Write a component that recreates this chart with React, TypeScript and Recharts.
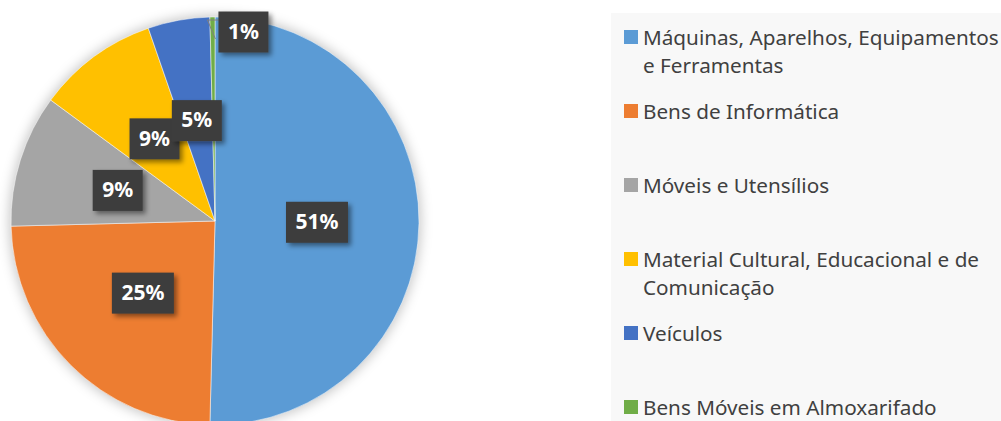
import { PieChart, Pie, Cell, Legend } from "recharts";

const categories = [
  "Máquinas, Aparelhos, Equipamentos e Ferramentas",
  "Bens de Informática",
  "Móveis e Utensílios",
  "Material Cultural, Educacional e de Comunicação",
  "Veículos",
  "Bens Móveis em Almoxarifado",
];
const shares = [50.4, 24.2, 10.5, 9.6, 4.9, 0.4];
const shareLabels = ["51%", "25%", "9%", "9%", "5%", "1%"];
const colors = ["#5b9bd5", "#ed7d31", "#a5a5a5", "#ffc000", "#4472c4", "#70ad47"];

const data = categories.map((name, i) => ({ name, value: shares[i] }));
const whole = [{ name: "total", value: shares.reduce((a, b) => a + b, 0) }];

const RAD = Math.PI / 180;

function SliceLabel(props: any) {
  const { cx, cy, midAngle, outerRadius, index } = props;
  const text = shareLabels[index];
  const w = text.length === 3 ? 62 : 50;
  const h = 41;
  let x: number;
  let y: number;
  let leader = null;
  if (index === categories.length - 1) {
    // tiny slice: label sits outside, to the right, with a leader line
    const px = cx + outerRadius * Math.cos(-midAngle * RAD);
    const py = cy + outerRadius * Math.sin(-midAngle * RAD);
    x = px + 6 + w / 2;
    y = py + 15;
    leader = (
      <polyline
        points={`${x - w / 2},${py + 3} ${px - 5},${py + 3} ${px + 3},${py + 22}`}
        fill="none"
        stroke="#7f7f7f"
        strokeWidth={1}
      />
    );
  } else {
    const r = outerRadius * 0.5;
    x = cx + r * Math.cos(-midAngle * RAD);
    y = cy + r * Math.sin(-midAngle * RAD);
  }
  return (
    <g>
      {index === 0 && (
        <defs>
          <filter id="boxShadow" x="-30%" y="-30%" width="170%" height="170%">
            <feDropShadow dx="3" dy="3" stdDeviation="2.5" floodColor="#000" floodOpacity="0.45" />
          </filter>
          <filter id="pieShadow" x="-20%" y="-20%" width="140%" height="140%">
            <feGaussianBlur stdDeviation="6" />
          </filter>
        </defs>
      )}
      {leader}
      <rect
        x={x - w / 2}
        y={y - h / 2}
        width={w}
        height={h}
        fill="#3d3d3d"
        filter="url(#boxShadow)"
      />
      <text
        x={x}
        y={y + 1}
        textAnchor="middle"
        dominantBaseline="middle"
        fill="#fff"
        fontFamily="'Noto Sans', sans-serif"
        fontWeight={700}
        fontSize={21}
      >
        {text}
      </text>
    </g>
  );
}

// legend keeps the original series order (recharts would sort it by name)
function LegendBox() {
  return (
    <div
      style={{
        background: "#f8f8f8",
        width: 390,
        height: 408,
        paddingTop: 10,
        boxSizing: "border-box",
        fontFamily: "'Noto Sans', sans-serif",
      }}
    >
      {categories.map((name, i) => (
        <div key={name} style={{ height: 74, display: "flex", alignItems: "flex-start" }}>
          <span
            style={{
              width: 14,
              height: 14,
              background: colors[i],
              marginLeft: 13,
              marginTop: 7,
              flex: "none",
            }}
          />
          <span
            style={{
              marginLeft: 5,
              width: 362,
              fontSize: 20.7,
              lineHeight: "28px",
              color: "#404040",
            }}
          >
            {name}
          </span>
        </div>
      ))}
    </div>
  );
}

export default function App() {
  return (
    <div style={{ position: "absolute", left: 0, top: 0, background: "#fff" }}>
      <PieChart width={1001} height={421} margin={{ top: 0, right: 0, bottom: 0, left: 0 }}>
        <Pie
          data={whole}
          dataKey="value"
          cx={215}
          cy={221}
          outerRadius={206}
          startAngle={90}
          endAngle={-270}
          isAnimationActive={false}
          legendType="none"
        >
          <Cell fill="#000" fillOpacity={0.22} stroke="none" filter="url(#pieShadow)" />
        </Pie>
        <Pie
          data={data}
          dataKey="value"
          nameKey="name"
          cx={215}
          cy={221}
          outerRadius={204}
          startAngle={90}
          endAngle={-270}
          isAnimationActive={false}
          label={SliceLabel}
          labelLine={false}
        >
          {data.map((d, i) => (
            <Cell key={d.name} fill={colors[i]} stroke="#fff" strokeWidth={0.5} />
          ))}
        </Pie>
        <Legend
          layout="vertical"
          align="right"
          verticalAlign="top"
          content={LegendBox}
          wrapperStyle={{ left: 611, top: 13, width: 390 }}
        />
      </PieChart>
    </div>
  );
}
